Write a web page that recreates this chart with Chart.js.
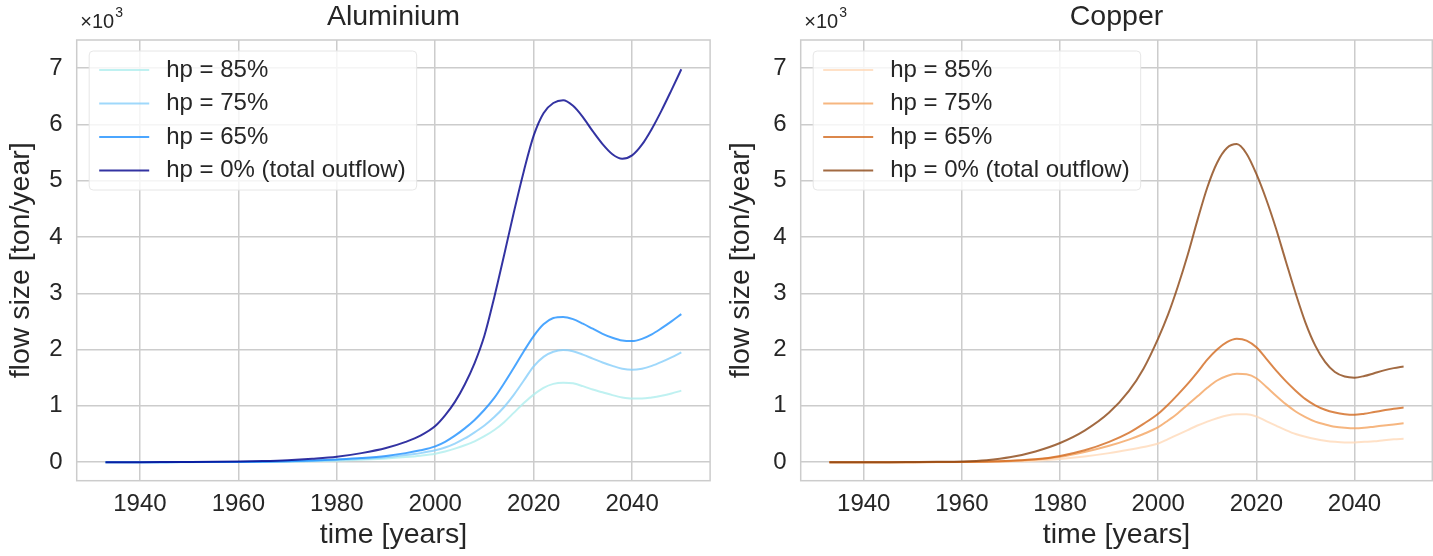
<!DOCTYPE html>
<html>
<head>
<meta charset="utf-8">
<script src="https://cdn.jsdelivr.net/npm/chart.js@4.4.0/dist/chart.umd.min.js"></script>
<style>
  html, body { margin: 0; padding: 0; background: #fff; }
  #wrap { position: relative; width: 1433px; height: 556px; }
  canvas { position: absolute; top: 0; }
</style>
</head>
<body>
<div id="wrap">
  <canvas id="alChart" width="720" height="556" style="left:0"></canvas>
  <canvas id="cuChart" width="713" height="556" style="left:720px"></canvas>
</div>
<script>
// years shared by every series (values in 10^3 ton/year)
const years = [1933, 1940, 1945, 1950, 1955, 1960, 1965, 1970, 1975, 1980, 1985, 1990, 1994, 1997,
  2000, 2002, 2004, 2006, 2008, 2010, 2012, 2014, 2016, 2018, 2020, 2022, 2024, 2026, 2028,
  2030, 2032, 2034, 2036, 2038, 2040, 2042, 2044, 2046, 2048, 2050];

const seriesLabels = ['hp = 85%', 'hp = 75%', 'hp = 65%', 'hp = 0% (total outflow)'];

// Aluminium
const al85 = [0, 0, 0, 0, 0.001, 0.002, 0.004, 0.008, 0.015, 0.026, 0.043, 0.064, 0.09, 0.115,
  0.15, 0.19, 0.24, 0.3, 0.37, 0.46, 0.57, 0.71, 0.88, 1.05, 1.2, 1.32, 1.39, 1.41, 1.4,
  1.35, 1.29, 1.24, 1.19, 1.15, 1.13, 1.13, 1.15, 1.18, 1.22, 1.27];
const al75 = [0, 0, 0, 0.001, 0.002, 0.003, 0.006, 0.012, 0.022, 0.038, 0.058, 0.088, 0.125, 0.16,
  0.21, 0.26, 0.33, 0.42, 0.53, 0.65, 0.8, 0.98, 1.2, 1.45, 1.7, 1.87, 1.96, 1.99, 1.97,
  1.91, 1.84, 1.77, 1.71, 1.66, 1.64, 1.66, 1.71, 1.78, 1.86, 1.95];
const al65 = [0, 0, 0, 0.001, 0.002, 0.004, 0.008, 0.015, 0.028, 0.048, 0.073, 0.11, 0.16, 0.21,
  0.28, 0.36, 0.47, 0.6, 0.75, 0.93, 1.14, 1.4, 1.68, 1.97, 2.24, 2.45, 2.56, 2.58, 2.54,
  2.46, 2.37, 2.28, 2.21, 2.16, 2.15, 2.19, 2.27, 2.38, 2.5, 2.63];
const al0 = [0, 0, 0.001, 0.003, 0.006, 0.011, 0.02, 0.035, 0.06, 0.095, 0.16, 0.25, 0.36, 0.47,
  0.64, 0.83, 1.07, 1.38, 1.76, 2.25, 2.93, 3.68, 4.45, 5.17, 5.8, 6.2, 6.38, 6.43, 6.33,
  6.13, 5.88, 5.65, 5.47, 5.39, 5.45, 5.64, 5.92, 6.25, 6.61, 6.98];

// Copper
const cu85 = [0, 0, 0, 0, 0, 0.001, 0.005, 0.012, 0.025, 0.055, 0.1, 0.16, 0.22, 0.27,
  0.33, 0.41, 0.49, 0.57, 0.65, 0.72, 0.78, 0.83, 0.85, 0.85, 0.81, 0.73, 0.65, 0.57, 0.5,
  0.45, 0.41, 0.38, 0.36, 0.35, 0.35, 0.36, 0.37, 0.39, 0.405, 0.415];
const cu75 = [0, 0, 0, 0, 0.001, 0.002, 0.008, 0.02, 0.045, 0.095, 0.18, 0.29, 0.4, 0.5,
  0.62, 0.74, 0.87, 1.02, 1.17, 1.32, 1.45, 1.53, 1.57, 1.56, 1.49, 1.34, 1.18, 1.03, 0.9,
  0.8, 0.72, 0.67, 0.63, 0.61, 0.6, 0.61, 0.63, 0.65, 0.67, 0.69];
const cu65 = [0, 0, 0, 0, 0.001, 0.003, 0.01, 0.025, 0.05, 0.11, 0.21, 0.36, 0.52, 0.68,
  0.86, 1.02, 1.2, 1.39, 1.6, 1.82, 2.0, 2.13, 2.19, 2.16, 2.04, 1.84, 1.63, 1.44, 1.27,
  1.12, 1.01, 0.93, 0.88, 0.85, 0.84, 0.86, 0.89, 0.92, 0.95, 0.97];
const cu0 = [0, 0, 0, 0.002, 0.005, 0.012, 0.035, 0.09, 0.19, 0.34, 0.56, 0.88, 1.26, 1.66,
  2.2, 2.62, 3.12, 3.68, 4.3, 4.88, 5.32, 5.58, 5.65, 5.48, 5.12, 4.67, 4.15, 3.57, 3.0,
  2.48, 2.07, 1.78, 1.6, 1.52, 1.5, 1.53, 1.58, 1.63, 1.67, 1.7];

const xTicks = [1940, 1960, 1980, 2000, 2020, 2040];
const yTicks = [0, 1, 2, 3, 4, 5, 6, 7];

const alColors = ['rgba(175,238,238,0.8)', 'rgba(135,206,250,0.8)', 'rgba(30,144,255,0.8)', 'rgba(0,0,139,0.8)'];
const cuColors = ['rgba(255,218,185,0.8)', 'rgba(244,164,96,0.8)', 'rgba(210,105,30,0.8)', 'rgba(139,69,19,0.8)'];

const FONT = "'Liberation Sans', Arial, sans-serif";
const textColor = '#262626';
const gridColor = '#cccccc';

Chart.defaults.font.family = FONT;
Chart.defaults.color = textColor;

// ×10^3 offset label above the y axis
const offsetText = {
  id: 'offsetText',
  afterDraw(chart) {
    const {ctx, chartArea} = chart;
    ctx.save();
    ctx.fillStyle = textColor;
    ctx.textBaseline = 'middle';
    ctx.font = '20px ' + FONT;
    const x = chartArea.left + 3.5;
    ctx.fillText('×10', x, 22);
    const w = ctx.measureText('×10').width;
    ctx.font = '14px ' + FONT;
    ctx.fillText('3', x + w + 1, 13);
    ctx.restore();
  }
};

// axes frame on all four sides
const frame = {
  id: 'frame',
  beforeDatasetsDraw(chart) {
    const {ctx, chartArea: a} = chart;
    ctx.save();
    ctx.strokeStyle = gridColor;
    ctx.lineWidth = 1.5;
    ctx.strokeRect(a.left, a.top, a.right - a.left, a.bottom - a.top);
    ctx.restore();
  }
};

// legend box in the upper left corner of the plot
const innerLegend = {
  id: 'innerLegend',
  afterDatasetsDraw(chart) {
    const {ctx, chartArea} = chart;
    const sets = chart.data.datasets;
    ctx.save();
    ctx.font = '24px ' + FONT;
    let maxW = 0;
    sets.forEach(ds => { maxW = Math.max(maxW, ctx.measureText(ds.label).width); });
    const bx = chartArea.left + 12.5, by = 51;
    const bw = 77 + maxW + 11, bh = 139;
    ctx.beginPath();
    ctx.roundRect(bx, by, bw, bh, 4);
    ctx.fillStyle = 'rgba(255,255,255,0.8)';
    ctx.fill();
    ctx.strokeStyle = '#e6e6e6';
    ctx.lineWidth = 1;
    ctx.stroke();
    ctx.textBaseline = 'middle';
    sets.forEach((ds, i) => {
      const y = 70 + i * 33.5;
      ctx.beginPath();
      ctx.moveTo(bx + 10, y);
      ctx.lineTo(bx + 60, y);
      ctx.strokeStyle = ds.borderColor;
      ctx.lineWidth = 2;
      ctx.stroke();
      ctx.fillStyle = textColor;
      ctx.fillText(ds.label, bx + 77, y);
    });
    ctx.restore();
  }
};

function toPoints(vals) {
  return years.map((yr, i) => ({x: yr, y: vals[i]}));
}

function buildPanel(canvasId, title, series, colors, box) {
  const datasets = series.map((vals, i) => ({
    label: seriesLabels[i],
    data: toPoints(vals),
    borderColor: colors[i],
    borderWidth: 2,
    pointRadius: 0,
    cubicInterpolationMode: 'monotone',
    fill: false,
    order: series.length - i
  }));

  return new Chart(document.getElementById(canvasId), {
    type: 'line',
    data: { datasets },
    plugins: [frame, innerLegend, offsetText],
    options: {
      responsive: false,
      animation: false,
      devicePixelRatio: 1,
      layout: { padding: { left: 0, right: box.padRight, top: 0, bottom: 0 } },
      plugins: {
        legend: { display: false },
        tooltip: { enabled: false },
        title: {
          display: true,
          text: title,
          fullSize: false,
          color: textColor,
          font: { size: 28.5, weight: 'normal' },
          padding: { top: 0.5, bottom: 5.3 }
        }
      },
      scales: {
        x: {
          type: 'linear',
          min: 1927.15,
          max: 2055.85,
          afterBuildTicks: s => { s.ticks = xTicks.map(v => ({ value: v })); },
          afterFit: s => { s.height = box.xHeight; },
          grid: { color: gridColor, lineWidth: 1.5, drawTicks: false },
          border: { display: false },
          ticks: { padding: 9, color: textColor, font: { size: 24 }, callback: v => String(v), maxRotation: 0 },
          title: { display: true, text: 'time [years]', color: textColor, font: { size: 28.5 }, padding: { top: 0, bottom: 4 } }
        },
        y: {
          type: 'linear',
          min: -0.33,
          max: 7.5,
          afterBuildTicks: s => { s.ticks = yTicks.map(v => ({ value: v })); },
          afterFit: s => { s.width = box.yWidth; },
          grid: { color: gridColor, lineWidth: 1.5, drawTicks: false },
          border: { display: false },
          ticks: { padding: 14, color: textColor, font: { size: 24 }, callback: v => String(v) },
          title: { display: true, text: 'flow size [ton/year]', color: textColor, font: { size: 28.5 }, padding: { top: 4, bottom: 0 } }
        }
      }
    }
  });
}

buildPanel('alChart', 'Aluminium', [al85, al75, al65, al0], alColors,
  { yWidth: 76.7, xHeight: 75.3, padRight: 9.9 });
buildPanel('cuChart', 'Copper', [cu85, cu75, cu65, cu0], cuColors,
  { yWidth: 80.7, xHeight: 75.3, padRight: 0.7 });
</script>
</body>
</html>
